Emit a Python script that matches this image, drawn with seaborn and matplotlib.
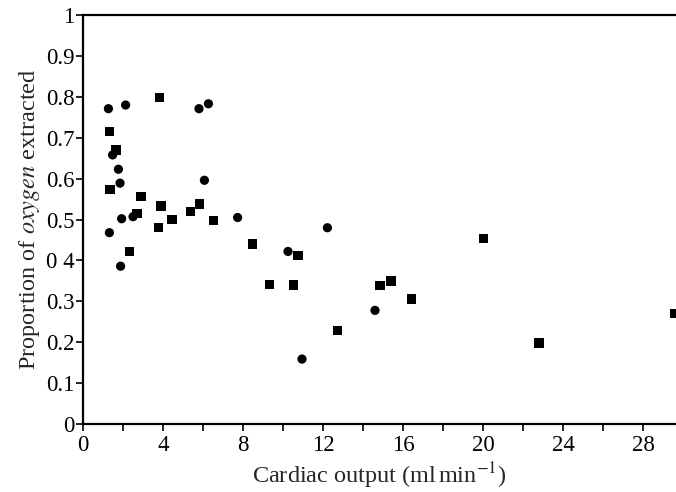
import pandas as pd
import matplotlib.pyplot as plt
import seaborn as sns

# circles
circ_x = [1.27, 2.13, 5.8, 6.27, 1.48, 1.77, 1.85, 6.07, 1.93, 2.5, 7.73, 1.32, 1.88, 12.22, 10.25, 10.95, 14.6]
circ_y = [0.771, 0.780, 0.771, 0.783, 0.658, 0.623, 0.589, 0.596, 0.502, 0.507, 0.505, 0.468, 0.386, 0.480, 0.422, 0.159, 0.278]
# squares
sq_x = [3.82, 1.32, 1.65, 1.35, 2.9, 3.9, 5.82, 5.38, 2.7, 4.45, 3.77, 6.53, 8.47, 9.33, 2.32, 10.75, 10.52,
        12.73, 14.85, 15.4, 16.43, 20.02, 22.8, 29.6]
sq_y = [0.798, 0.716, 0.670, 0.574, 0.556, 0.533, 0.538, 0.520, 0.514, 0.501, 0.480, 0.498, 0.440, 0.342, 0.422,
        0.413, 0.340, 0.228, 0.338, 0.350, 0.306, 0.453, 0.198, 0.270]

y_ticks = [0, 0.1, 0.2, 0.3, 0.4, 0.5, 0.6, 0.7, 0.8, 0.9, 1]
y_labels = ['0', '0.1', '0.2', '0.3', '0 4', '0.5', '0.6', '0.7', '0.8', '0.9', '1']
x_ticks = [0, 4, 8, 12, 16, 20, 24, 28]

df = pd.DataFrame({
    'co': circ_x + sq_x,
    'ox': circ_y + sq_y,
    'group': ['circle'] * len(circ_x) + ['square'] * len(sq_x),
})

sns.set_style('ticks')
plt.rcParams['font.family'] = ['Liberation Serif', 'DejaVu Serif']
plt.rcParams['mathtext.fontset'] = 'stix'

fig = plt.figure(figsize=(6.76, 4.92), dpi=100)
ax = fig.add_axes([0.1228, 0.138, 0.8772, 0.8315])

sns.scatterplot(data=df, x='co', y='ox', style='group', markers={'circle': 'o', 'square': 's'},
                color='black', s=44, edgecolor='black', linewidth=0, legend=False, ax=ax)

ax.set_xlim(0, 29.65)
ax.set_ylim(0, 1)
ax.set_yticks(y_ticks)
ax.set_yticklabels(y_labels)
ax.set_xticks(x_ticks)
ax.set_xticks(range(2, 30, 4), minor=True)
ax.tick_params(axis='both', which='both', direction='out', length=5, width=1.2, labelsize=16.5, colors='black')
ax.tick_params(axis='x', pad=3)
ax.tick_params(axis='y', pad=1)

for side in ['left', 'bottom', 'top']:
    ax.spines[side].set_linewidth(1.6)
    ax.spines[side].set_color('black')
ax.spines['right'].set_visible(False)

ax.set_xlabel('Cardiac output (ml$\\,$min$^{-1}$)', fontsize=17.5, labelpad=3)
ax.set_ylabel('Proportion of $\\mathit{oxygen}$ extracted', fontsize=17.5, labelpad=3)

fig.savefig('out.png', dpi=100)
